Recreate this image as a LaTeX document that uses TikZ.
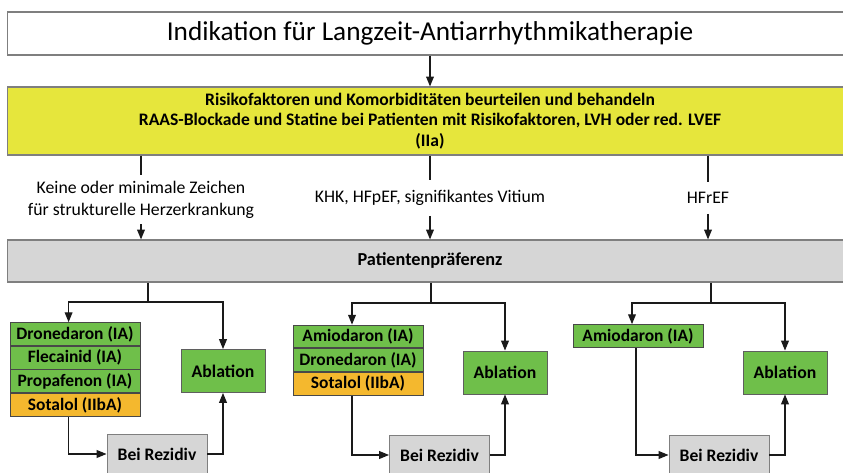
\documentclass[tikz,border=0pt]{standalone}
\usepackage{fontspec}
\setmainfont{Carlito}
\usepackage{tikz}
\usetikzlibrary{arrows.meta,positioning,calc}
\definecolor{lemon}{HTML}{E6E63C}
\definecolor{leaf}{HTML}{6FBF4A}
\definecolor{amber}{HTML}{F4B82E}
\definecolor{pebble}{HTML}{D6D6D6}
\definecolor{frame}{HTML}{7F7F7F}
\definecolor{ink}{HTML}{1A1A1A}
\tikzset{
  widebox/.style={
    rectangle, draw=frame, fill=#1, line width=0.8pt,
    minimum width=21.1cm, align=center, inner sep=2pt
  },
  widebox/.default=white,
  drugbox/.style={
    rectangle, draw=ink!80, fill=#1, line width=0.6pt,
    minimum width=3.25cm, minimum height=0.57cm,
    font=\fontsize{12.4}{13}\selectfont\bfseries, inner sep=1pt
  },
  drugbox/.default=leaf,
  ablbox/.style={
    rectangle, draw=ink!70, fill=leaf, line width=0.6pt,
    minimum width=2.1cm, minimum height=1.075cm,
    font=\fontsize{12.6}{13}\selectfont\bfseries
  },
  rezbox/.style={
    rectangle, draw=frame, fill=pebble, line width=0.6pt,
    minimum width=2.5cm, minimum height=1cm,
    font=\fontsize{12.5}{13}\selectfont\bfseries
  },
  branchlbl/.style={
    align=center, inner sep=4pt,
    font=\fontsize{12.6}{15.6}\selectfont
  },
  flowarrow/.style={
    -{Triangle[length=7pt,width=5.5pt]}, line width=0.9pt, color=ink
  },
  flowline/.style={line width=0.9pt, color=ink},
}

\begin{document}
\begin{tikzpicture}[x=0.025cm, y=-0.025cm]
  \path[use as bounding box, clip] (0,0) rectangle (843,473);
  \fill[white] (0,0) rectangle (843,473);

  % top of the chart
  \node[widebox, minimum height=1.075cm, font=\fontsize{19.4}{22}\selectfont] (indik) at (430,33.5)
    {Indikation für Langzeit-Antiarrhythmikatherapie};
  \node[widebox=lemon, minimum height=1.7cm, font=\fontsize{12.5}{14.6}\selectfont\bfseries] (risk) at (430,121)
    {Risikofaktoren und Komorbiditäten beurteilen und behandeln\\
     RAAS-Blockade und Statine bei Patienten mit Risikofaktoren, LVH oder red. LVEF\\
     (IIa)};
  \node[widebox=pebble, minimum height=1.05cm, font=\fontsize{13}{14}\selectfont\bfseries] (pref) at (430,261)
    {Patientenpräferenz};
  \draw[flowarrow] (indik) -- (risk);

  % branch labels
  \node[branchlbl] (lblA) at (141,199.5) {Keine oder minimale Zeichen\\für strukturelle Herzerkrankung};
  \node[branchlbl, inner sep=7pt] (lblB) at (430,198) {KHK, HFpEF, signifikantes Vitium};
  \node[branchlbl, inner sep=7pt] (lblC) at (708,198) {HFrEF};
  \foreach \l in {lblA,lblB,lblC} {
    \draw[flowline] (risk.south -| \l) -- (\l.north);
    \draw[flowarrow] (\l.south) -- (pref.north -| \l);
  }

  % left column
  \node[drugbox] (dronA) at (75,334) {Dronedaron (IA)};
  \node[drugbox, below=0pt of dronA] (fleA) {Flecainid (IA)};
  \node[drugbox, below=0pt of fleA] (propA) {Propafenon (IA)};
  \node[drugbox=amber, below=0pt of propA] (sotA) {Sotalol (IIbA)};
  \node[ablbox] (ablA) at (223,371) {Ablation};
  \node[rezbox] (rezA) at (157,454) {Bei Rezidiv};
  \coordinate (jA) at (148,302);

  % middle column
  \node[drugbox] (amiB) at (358,336.5) {Amiodaron (IA)};
  \node[drugbox, below=0pt of amiB] (dronB) {Dronedaron (IA)};
  \node[drugbox=amber, below=0pt of dronB] (sotB) {Sotalol (IIbA)};
  \node[ablbox] (ablB) at (505,372.5) {Ablation};
  \node[rezbox] (rezB) at (439.5,455) {Bei Rezidiv};
  \coordinate (jB) at (431,303);

  % right column
  \node[drugbox] (amiC) at (638,336) {Amiodaron (IA)};
  \node[ablbox] (ablC) at (785,372.5) {Ablation};
  \node[rezbox] (rezC) at (719,455) {Bei Rezidiv};
  \coordinate (jC) at (711,303);

  % connectors
  \draw[flowline] (pref.south -| jA) -- (jA);
  \draw[flowarrow] (jA) -| ([xshift=-0.16cm]dronA.north);
  \draw[flowarrow] (jA) -| (ablA.north);
  \draw[flowarrow] ([xshift=-0.16cm]sotA.south) |- (rezA.west);
  \draw[flowarrow] (rezA.east) -| (ablA.south);

  \draw[flowline] (pref.south -| jB) -- (jB);
  \draw[flowarrow] (jB) -| ([xshift=-0.15cm]amiB.north);
  \draw[flowarrow] (jB) -| (ablB.north);
  \draw[flowarrow] ([xshift=-0.15cm]sotB.south) |- (rezB.west);
  \draw[flowarrow] (rezB.east) -| (ablB.south);

  \draw[flowline] (pref.south -| jC) -- (jC);
  \draw[flowarrow] (jC) -| ([xshift=-0.15cm]amiC.north);
  \draw[flowarrow] (jC) -| (ablC.north);
  \draw[flowarrow] ([xshift=-0.05cm]amiC.south) |- (rezC.west);
  \draw[flowarrow] (rezC.east) -| (ablC.south);
\end{tikzpicture}
\end{document}
